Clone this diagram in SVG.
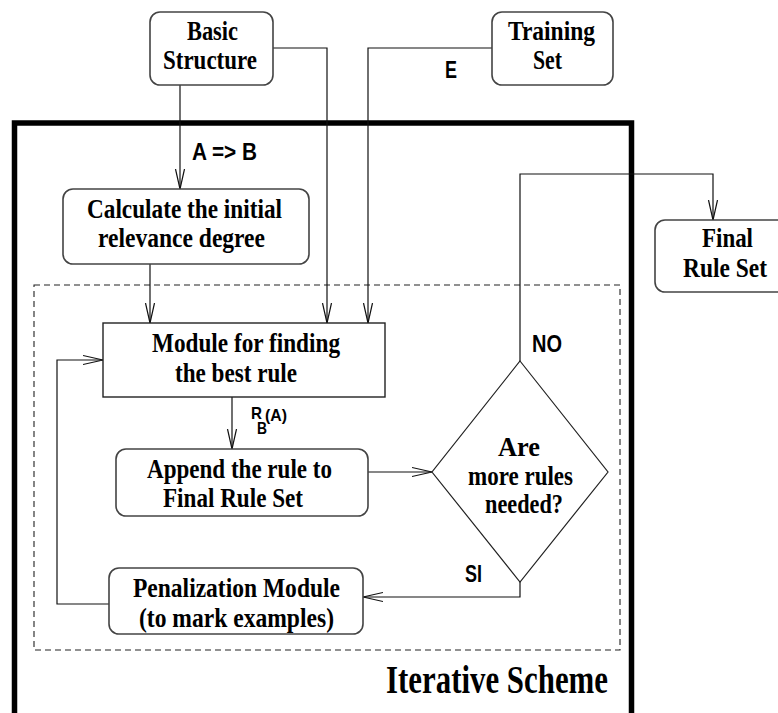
<svg xmlns="http://www.w3.org/2000/svg" width="778" height="713" viewBox="0 0 778 713">
<style>
.box{fill:#fff;stroke:#444;stroke-width:1.6}
.ln{fill:none;stroke:#111;stroke-width:1.2}
.t{font-family:"Liberation Serif","Times New Roman",serif;font-weight:bold;font-size:27px;fill:#000;text-anchor:middle}
.s{font-family:"Liberation Sans",Arial,sans-serif;font-weight:bold;font-size:24px;fill:#000}
</style>
<defs>
<marker id="ah" markerWidth="22" markerHeight="12" refX="20" refY="6" orient="auto" markerUnits="userSpaceOnUse">
<path d="M0,1.5 L20,6 L0,10.5" fill="none" stroke="#111" stroke-width="1.2"/>
</marker>
</defs>
<rect x="14.5" y="123" width="617" height="700" fill="none" stroke="#000" stroke-width="5.5"/>
<rect x="34" y="285" width="586" height="365" fill="none" stroke="#222" stroke-width="1.1" stroke-dasharray="6,4"/>
<g id="connectors">
<path class="ln" d="M180,85 V189" marker-end="url(#ah)"/>
<path class="ln" d="M273,48 H327 V323" marker-end="url(#ah)"/>
<path class="ln" d="M492,48 H368 V323" marker-end="url(#ah)"/>
<path class="ln" d="M150,264 V323" marker-end="url(#ah)"/>
<path class="ln" d="M232,397 V449" marker-end="url(#ah)"/>
<path class="ln" d="M368,472 H432" marker-end="url(#ah)"/>
<path class="ln" d="M520,361 V174 H713 V220" marker-end="url(#ah)"/>
<path class="ln" d="M520,582 V597 H363" marker-end="url(#ah)"/>
<path class="ln" d="M109,604 H57 V360 H103" marker-end="url(#ah)"/>
<text class="s" x="192" y="160" textLength="65" lengthAdjust="spacingAndGlyphs">A =&gt; B</text>
<text class="s" x="445" y="78" textLength="12" lengthAdjust="spacingAndGlyphs">E</text>
<text class="s" x="532" y="352" textLength="30" lengthAdjust="spacingAndGlyphs">NO</text>
<text class="s" x="465" y="582" textLength="17" lengthAdjust="spacingAndGlyphs">SI</text>
<text class="s" x="251" y="419" style="font-size:17px" textLength="11" lengthAdjust="spacingAndGlyphs">R</text>
<text class="s" x="265" y="421" style="font-size:17px" textLength="22" lengthAdjust="spacingAndGlyphs">(A)</text>
<text class="s" x="257" y="434" style="font-size:17px" textLength="10" lengthAdjust="spacingAndGlyphs">B</text>
</g>
<g id="basic">
<rect class="box" x="150" y="12" width="123" height="73" rx="10"/>
<text class="t" x="212.5" y="40" textLength="51" lengthAdjust="spacingAndGlyphs">Basic</text>
<text class="t" x="210" y="69" textLength="94" lengthAdjust="spacingAndGlyphs">Structure</text>
</g>
<g id="training">
<rect class="box" x="492" y="12" width="121" height="73" rx="10"/>
<text class="t" x="551.5" y="40" textLength="87" lengthAdjust="spacingAndGlyphs">Training</text>
<text class="t" x="547.5" y="69" textLength="29" lengthAdjust="spacingAndGlyphs">Set</text>
</g>
<g id="calc">
<rect class="box" x="63" y="189" width="246" height="75" rx="10"/>
<text class="t" x="184.5" y="218" textLength="195" lengthAdjust="spacingAndGlyphs">Calculate the initial</text>
<text class="t" x="181.5" y="247" textLength="167" lengthAdjust="spacingAndGlyphs">relevance degree</text>
</g>
<g id="final">
<rect class="box" x="655" y="220" width="142" height="72" rx="10"/>
<text class="t" x="727.5" y="247" textLength="51" lengthAdjust="spacingAndGlyphs">Final</text>
<text class="t" x="725" y="277" textLength="84" lengthAdjust="spacingAndGlyphs">Rule Set</text>
</g>
<g id="module">
<rect x="103" y="323" width="282" height="74" fill="#fff" stroke="#222" stroke-width="1.4"/>
<text class="t" x="246" y="352" textLength="188" lengthAdjust="spacingAndGlyphs">Module for finding</text>
<text class="t" x="236" y="382" textLength="122" lengthAdjust="spacingAndGlyphs">the best rule</text>
</g>
<g id="append">
<rect class="box" x="116" y="449" width="252" height="67" rx="10"/>
<text class="t" x="239.5" y="478" textLength="185" lengthAdjust="spacingAndGlyphs">Append the rule to</text>
<text class="t" x="233" y="507" textLength="140" lengthAdjust="spacingAndGlyphs">Final Rule Set</text>
</g>
<g id="decision">
<path d="M520,361 L608,472 L520,582 L432,472 Z" fill="#fff" stroke="#222" stroke-width="1.2"/>
<text class="t" x="519" y="456" textLength="42" lengthAdjust="spacingAndGlyphs">Are</text>
<text class="t" x="520.5" y="485" textLength="105" lengthAdjust="spacingAndGlyphs">more rules</text>
<text class="t" x="524" y="513" textLength="78" lengthAdjust="spacingAndGlyphs">needed?</text>
</g>
<g id="penal">
<rect class="box" x="109" y="568" width="254" height="66" rx="10"/>
<text class="t" x="236.5" y="597" textLength="207" lengthAdjust="spacingAndGlyphs">Penalization Module</text>
<text class="t" x="236.5" y="627" textLength="195" lengthAdjust="spacingAndGlyphs">(to mark examples)</text>
</g>
<g id="label">
<text class="t" x="497" y="693" style="font-size:40px" textLength="222" lengthAdjust="spacingAndGlyphs">Iterative Scheme</text>
</g>
</svg>
